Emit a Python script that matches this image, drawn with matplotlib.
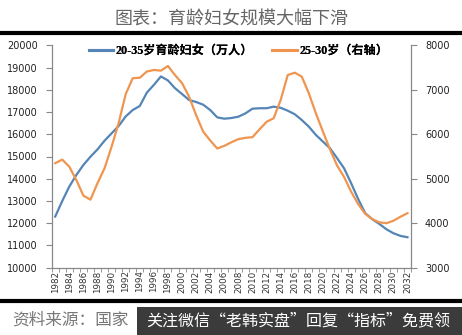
import matplotlib
matplotlib.use("Agg")
import matplotlib.pyplot as plt
from matplotlib.lines import Line2D
from matplotlib.patches import Rectangle
import numpy as np

plt.rcParams['font.family'] = ['DejaVu Sans', 'Noto Sans CJK SC']

years = list(range(1982, 2033))
women_20_35 = [12300, 13000, 13650, 14170, 14620, 14990, 15320, 15710, 16040, 16370,
               16800, 17090, 17270, 17870, 18220, 18600, 18420, 18070, 17810, 17540,
               17450, 17330, 17090, 16760, 16700, 16730, 16790, 16940, 17150, 17170,
               17170, 17240, 17190, 17060, 16900, 16640, 16340, 15970, 15670, 15370,
               14930, 14470, 13800, 13090, 12450, 12180, 11970, 11730, 11550, 11430,
               11370]
women_25_30 = [5350, 5430, 5270, 4970, 4620, 4530, 4900, 5235, 5720, 6250,
               6900, 7260, 7270, 7410, 7445, 7430, 7535, 7330, 7150, 6845,
               6430, 6060, 5860, 5680, 5740, 5820, 5890, 5920, 5935, 6110,
               6280, 6360, 6770, 7330, 7385, 7295, 6920, 6470, 6060, 5660,
               5300, 5040, 4710, 4430, 4210, 4095, 4020, 4000, 4055, 4145,
               4225]
label_blue = "20-35岁育龄妇女（万人）"
label_orange = "25-30岁（右轴）"
title = "图表：育龄妇女规模大幅下滑"
source = "资料来源：国家"
watermark = "关注微信“老韩实盘”回复“指标”免费领"

W, H = 462, 335
fig = plt.figure(figsize=(W / 100, H / 100), dpi=100)
fig.patch.set_facecolor('white')

ax = fig.add_axes([51.7 / W, 1 - 267.7 / H, (411 - 51.7) / W, (267.7 - 45.3) / H])
ax2 = ax.twinx()

x = np.arange(len(years))
blue = '#5485B6'
orange = '#EF9550'
l1, = ax.plot(x, women_20_35, color=blue, lw=1.6, zorder=3, solid_joinstyle='round')
l2, = ax2.plot(x, women_25_30, color=orange, lw=1.6, zorder=2, solid_joinstyle='round')

ax.set_xlim(-0.5, len(years) - 0.5)
ax.set_ylim(10000, 20000)
ax2.set_ylim(3000, 8000)
ax.set_yticks(range(10000, 20001, 1000))
ax2.set_yticks(range(3000, 8001, 1000))

ax.set_xticks(x[::2])
ax.set_xticklabels([str(y) for y in years[::2]], rotation=90, fontsize=6.3, color='#333333')
ax.set_xticks(np.arange(-0.5, len(years), 1), minor=True)
ax.tick_params(axis='x', which='major', length=0, pad=2)
ax.tick_params(axis='x', which='minor', length=3, direction='out', color='#888888')

ax.tick_params(axis='y', labelsize=7, length=4, direction='out', color='#888888', pad=6, labelcolor='#222222')
ax2.tick_params(axis='y', labelsize=7, length=4, direction='out', color='#888888', pad=6, labelcolor='#222222')

for a in (ax, ax2):
    a.spines['top'].set_visible(False)
    for s in ('left', 'right', 'bottom'):
        a.spines[s].set_color('#888888')
        a.spines[s].set_linewidth(0.9)
ax.spines['right'].set_visible(False)
ax2.spines['left'].set_visible(False)
ax2.spines['bottom'].set_visible(False)
ax.patch.set_visible(False)

leg = ax.legend([l1, l2], [label_blue, label_orange], ncol=2, loc='upper center',
                bbox_to_anchor=(0.52, 1.05), frameon=False, handlelength=2.0,
                handletextpad=0.25, columnspacing=1.6,
                prop={'family': ['Liberation Serif', 'Noto Sans CJK SC'], 'weight': 'bold', 'size': 8.7})
ax.add_artist(leg)
for lh in leg.get_lines():
    lh.set_linewidth(2.2)

# title and rules
fig.text(0.5, 1 - 19.5 / H, title, ha='center', va='center', fontsize=13,
         color='#666666', family=['Noto Sans CJK SC'])
fig.add_artist(Line2D([0, 1], [1 - 33 / H, 1 - 33 / H], transform=fig.transFigure,
                      color='black', lw=3))
fig.add_artist(Line2D([0, 1], [1 - 301.3 / H, 1 - 301.3 / H], transform=fig.transFigure,
                      color='black', lw=3))

fig.text(12 / W, 1 - 320 / H, source, ha='left', va='center', fontsize=12,
         color='#777777', family=['Noto Sans CJK SC'])
fig.add_artist(Rectangle((137 / W, 0), (W - 137) / W, (H - 306.5) / H,
                         transform=fig.transFigure, facecolor='#3b3b3b', edgecolor='none', zorder=5))
fig.text(298 / W, 1 - 321 / H, watermark, ha='center', va='center', fontsize=11.5,
         color='white', family=['Noto Sans CJK SC'], zorder=6)

fig.savefig('out.png', dpi=100, facecolor='white')
